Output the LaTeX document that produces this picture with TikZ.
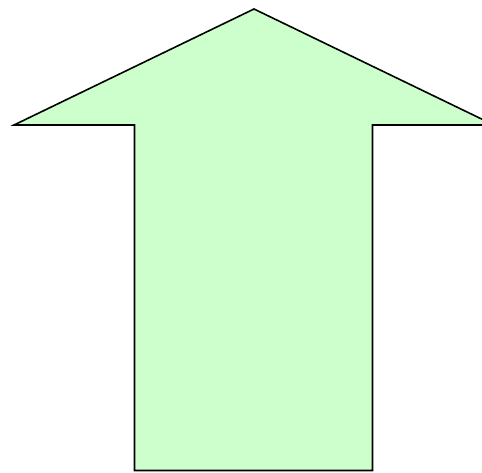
\documentclass[tikz,border=0pt]{standalone}
\definecolor{arrowfill}{HTML}{CCFFCC}
\tikzset{bigarrow/.style={draw=black, fill=arrowfill, line width=1.6pt, line join=miter}}
\begin{document}
\begin{tikzpicture}[x=1pt,y=-1pt]
\useasboundingbox (0,0) rectangle (482,472);
\clip (0,0) rectangle (482,472);
\fill[white] (0,0) rectangle (482,472);
\draw[bigarrow] (254,9) -- (14,125) -- (134.5,125) -- (134.5,470.5) -- (372.5,470.5) -- (372.5,125) -- (494,125) -- cycle;
\end{tikzpicture}
\end{document}
